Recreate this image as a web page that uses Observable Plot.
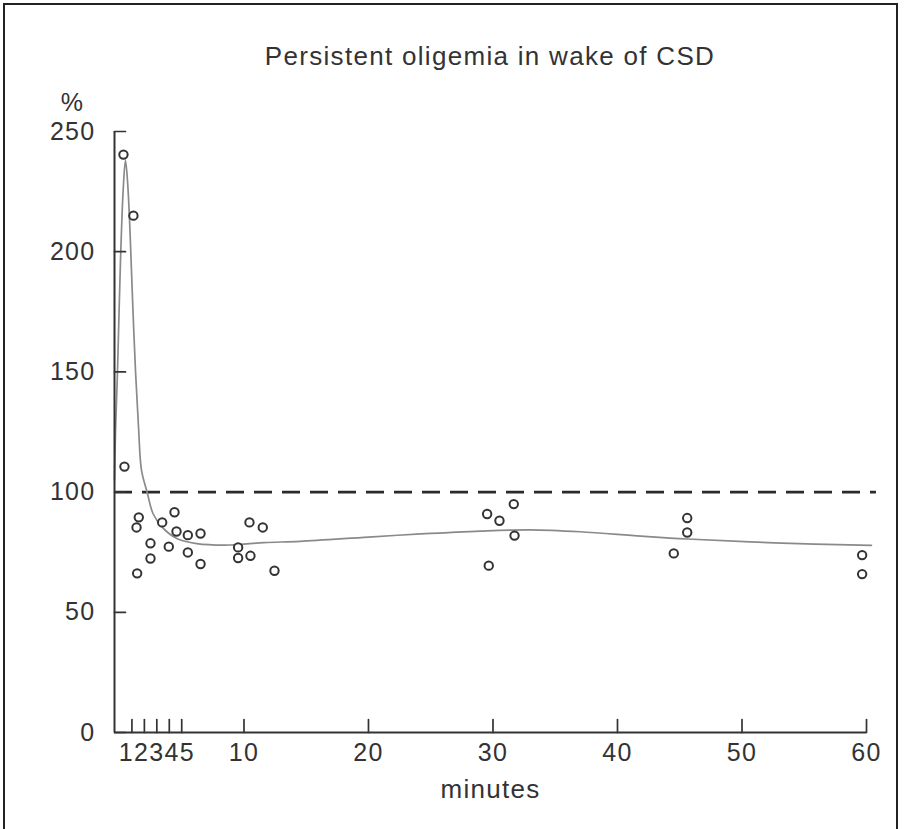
<!DOCTYPE html>
<html>
<head>
<meta charset="utf-8">
<script src="https://cdn.jsdelivr.net/npm/d3@7"></script>
<script src="https://cdn.jsdelivr.net/npm/@observablehq/plot@0.6"></script>
<style>
  html, body { margin: 0; padding: 0; background: #fff; }
  #wrap { position: relative; width: 904px; height: 829px; overflow: hidden; background: #fff; }
  #border { position: absolute; left: 3px; top: 3px; width: 895px; height: 840px; border: 2px solid #222; box-sizing: border-box; }
  #title { position: absolute; left: 114px; width: 752px; top: 43px; line-height: 26px; font-size: 26px;
           font-family: "Liberation Sans", Arial, sans-serif; color: #333; text-align: center; letter-spacing: 1.3px; }
  #chart { position: absolute; left: 0; top: 80px; }
  #chart svg text { letter-spacing: 1.3px; }
</style>
</head>
<body>
<div id="wrap">
  <div id="border"></div>
  <div id="title">Persistent oligemia in wake of CSD</div>
  <div id="chart"></div>
</div>
<script>
// Measured points (minutes, % of baseline)
const pointMinutes = [0.32, 1.12, 0.40, 1.55, 1.37, 1.42, 2.49, 2.49, 3.43, 3.96, 4.42, 4.58, 5.49, 5.49, 6.51, 6.51,
  9.53, 9.53, 10.52, 10.44, 11.51, 12.45, 31.67, 29.53, 30.52, 31.73, 29.66, 45.6, 45.6, 44.52, 59.65, 59.65];
const pointValues = [240.4, 215, 110.6, 89.5, 85.3, 66.2, 78.7, 72.4, 87.4, 77.3, 91.6, 83.6, 82.1, 74.9, 82.8, 70.1,
  77.0, 72.6, 73.5, 87.4, 85.3, 67.3, 95.0, 90.9, 88.1, 81.9, 69.4, 89.2, 83.2, 74.5, 73.8, 65.9];

// Smoothed fit curve
const curveMinutes = [-0.4, -0.32, -0.16, 0.08, 0.3, 0.48, 0.65, 0.85, 1.05, 1.29, 1.53, 1.77, 2.22, 2.7, 3.5, 4.6, 6.2,
  8.9, 11.6, 14.5, 20, 24.2, 29, 33, 37, 41.9, 45.6, 52.6, 60.4];
const curveValues = [105, 125, 150, 196, 226, 238, 229, 208, 180, 150, 127, 109, 100, 91, 85, 80.7, 78.6,
  78, 79, 79.5, 81.3, 82.6, 83.8, 84.3, 83.5, 81.7, 80.5, 78.9, 77.8];

const baselineValue = [100];
const xTicks = [1, 2, 3, 4, 5, 10, 20, 30, 40, 50, 60];
// the first five tick labels are printed run together as "12345" under ticks 1–5
const xTickLabels = ["", "", "12345", "", "", "10", "20", "30", "40", "50", "60"];
const yTicks = [0, 50, 100, 150, 200, 250];
const xDomain = [-0.4, 60];
const yDomain = [0, 250];
const xLabel = "minutes";
const yLabel = "%";

const points = pointMinutes.map((m, i) => ({m, v: pointValues[i]}));
const curve = curveMinutes.map((m, i) => ({m, v: curveValues[i]}));
const xLabelOf = new Map(xTicks.map((t, i) => [t, xTickLabels[i]]));

const tickShape = {draw(context, l) { context.moveTo(0, 0); context.lineTo(0, -l); }};
const ink = "#333";

const chart = Plot.plot({
  width: 904,
  height: 749,
  marginTop: 51,
  marginBottom: 97,
  marginLeft: 114,
  marginRight: 38,
  style: {fontFamily: "'Liberation Sans', Arial, sans-serif", fontSize: "25px", color: ink, background: "transparent", overflow: "visible"},
  x: {domain: xDomain, label: null},
  y: {domain: yDomain, label: null},
  marks: [
    Plot.ruleY(baselineValue, {x1: xDomain[0], x2: 60.8, stroke: "#2a2a2a", strokeWidth: 2.6, strokeDasharray: "18,10"}),
    Plot.line(curve, {x: "m", y: "v", curve: "catmull-rom", stroke: "#8a8a8a", strokeWidth: 1.7}),
    Plot.dot(points, {x: "m", y: "v", r: 4.2, stroke: ink, strokeWidth: 2, fill: "white"}),
    Plot.ruleX([xDomain[0]], {stroke: ink, strokeWidth: 2}),
    Plot.ruleY([yDomain[0]], {stroke: ink, strokeWidth: 2}),
    Plot.vector(yTicks, {y: d => d, frameAnchor: "left", rotate: 90, length: 11, anchor: "start", shape: tickShape, stroke: ink, strokeWidth: 1.7}),
    Plot.vector(xTicks, {x: d => d, frameAnchor: "bottom", rotate: 0, length: 13, anchor: "start", shape: tickShape, stroke: ink, strokeWidth: 1.7}),
    Plot.axisY(yTicks, {tickSize: 0, tickPadding: 19, fontSize: 25, fill: ink}),
    Plot.axisX(xTicks, {tickSize: 0, tickPadding: 11, fontSize: 25, fill: ink, tickFormat: d => xLabelOf.get(d)}),
    Plot.text([yLabel], {frameAnchor: "top-left", textAnchor: "middle", dx: -42, dy: -21, lineAnchor: "bottom", fontSize: 25, fill: ink}),
    Plot.text([xLabel], {frameAnchor: "bottom", dy: 65, lineAnchor: "bottom", fontSize: 26, fill: ink})
  ]
});
document.getElementById("chart").appendChild(chart);
</script>
</body>
</html>
